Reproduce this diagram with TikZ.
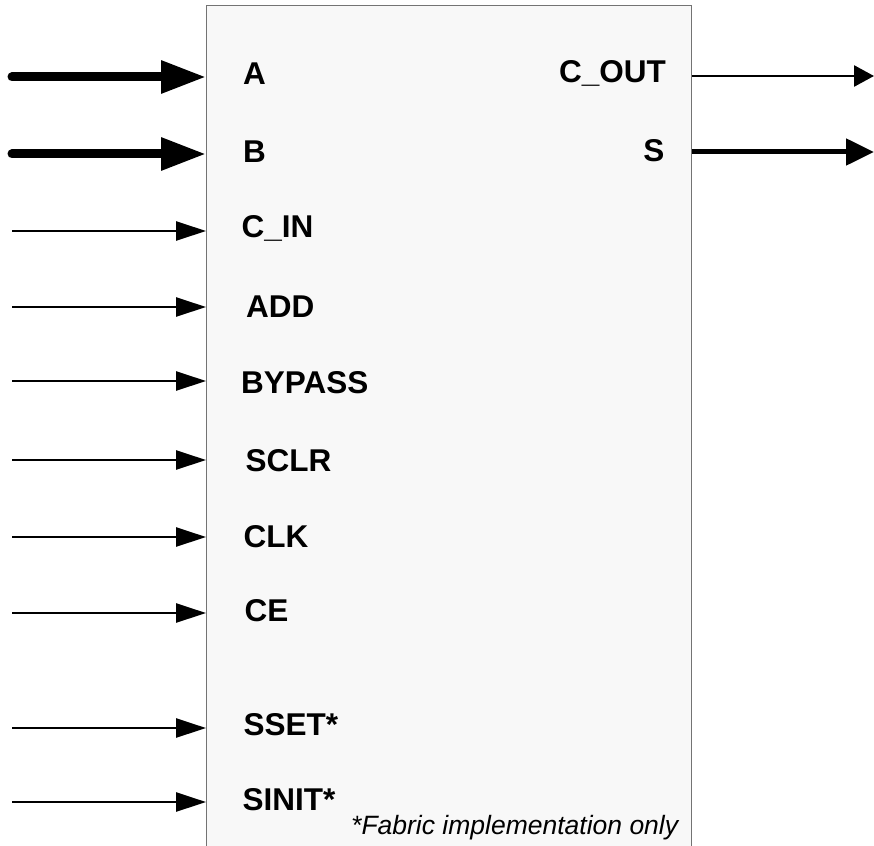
\documentclass[tikz,border=0pt]{standalone}
\usepackage{fontspec}
\setmainfont{Liberation Sans}
\usetikzlibrary{positioning}
\usetikzlibrary{arrows.meta}
\definecolor{boxfill}{rgb}{0.973, 0.973, 0.973}
\definecolor{boxline}{rgb}{0.45, 0.45, 0.45}

\begin{document}
\begin{tikzpicture}[x=1pt,y=-1pt,
  port/.style={font=\bfseries\fontsize{31.5}{31.5}\selectfont, anchor=base west, inner sep=0pt},
  busin/.style={line width=9pt, line cap=round, -{Triangle[length=45pt,width=31pt]}},
  sigin/.style={line width=2.7pt, -{Triangle[length=30pt,width=19pt]}},
  sigout/.style={line width=2.7pt, -{Triangle[length=20pt,width=21pt]}},
  busout/.style={line width=5pt, -{Triangle[length=28pt,width=26pt]}}]
  \useasboundingbox (0,0) rectangle (874,845);
  \begin{scope}
  \clip (0,0) rectangle (874,845);
  \node[draw=boxline, fill=boxfill, line width=1.3pt, minimum width=485pt,
        minimum height=870pt, anchor=north west, inner sep=0pt] (blk) at (206,5) {};
  \end{scope}

  % input labels
  \node[port] (a) at (243,85) {A};
  \node[port] (b) at (243,163) {B};
  \node[port] (cin) at (241.5,237) {C\_IN};
  \node[port] (add) at (246,317) {ADD};
  \node[port] (bypass) at (241,393) {BYPASS};
  \node[port] (sclr) at (245.5,471) {SCLR};
  \node[port] (clk) at (243.5,547) {CLK};
  \node[port] (ce) at (244.5,621) {CE};
  \node[port] (sset) at (243.5,735) {SSET*};
  \node[port] (sinit) at (242.5,810) {SINIT*};

  % output labels
  \node[port, anchor=base east] (cout) at (666,83) {C\_OUT};
  \node[port, anchor=base east] (s) at (664.5,161) {S};

  \node[anchor=base west, inner sep=0pt, font=\itshape\fontsize{26.5}{26.5}\selectfont] (note) at (351,834)
    {*Fabric implementation only};

  % input arrows
  \coordinate (ina) at (12,77);
  \coordinate (inb) at (12,154);
  \draw[busin] (ina) -- (ina -| blk.west);
  \draw[busin] (inb) -- (inb -| blk.west);
  \foreach \p/\y in {cin/231, add/307, bypass/381, sclr/460, clk/537, ce/613, sset/728, sinit/802}
  {
    \coordinate (in\p) at (12,\y);
    \draw[sigin] (in\p) -- (in\p -| blk.west);
  }

  % output arrows
  \coordinate (outc) at (874,76);
  \coordinate (outs) at (874,152);
  \draw[sigout] (outc -| blk.east) -- (outc);
  \draw[busout] (outs -| blk.east) -- (outs);
\end{tikzpicture}
\end{document}
